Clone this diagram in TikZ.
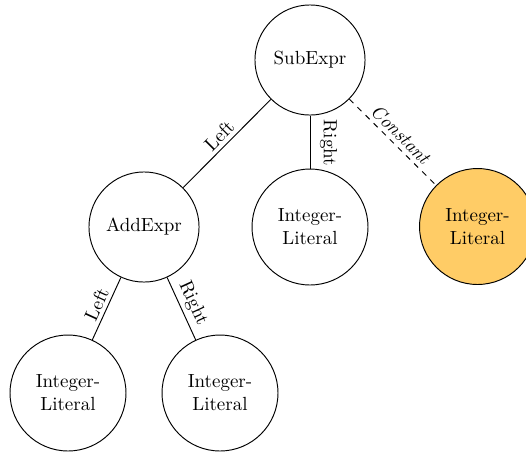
\documentclass[tikz,border=0pt]{standalone}
\begin{document}
\begin{tikzpicture}[x=0.526pt,y=-0.526pt,
  exprnode/.style={circle,draw,line width=0.5pt,inner sep=0pt,minimum size=57.9pt,align=center},
  litnode/.style={circle,draw,line width=0.5pt,inner sep=0pt,minimum size=61pt,align=center},
  constnode/.style={litnode,fill=constfill},
  edgelabel/.style={sloped,above,midway,inner sep=2pt},
  edge/.style={line width=0.5pt}]
\definecolor{constfill}{RGB}{255,204,102}
\useasboundingbox (0,0) rectangle (526,453);
% expression tree nodes
\node[exprnode] (sub) at (310,60) {SubExpr};
\node[exprnode] (add) at (144,227) {AddExpr};
\node[litnode] (mid) at (310,227) {Integer-\\Literal};
\node[constnode] (const) at (477.5,226.5) {Integer-\\Literal};
\node[litnode] (ll) at (68,393) {Integer-\\Literal};
\node[litnode] (lr) at (220,393) {Integer-\\Literal};
% connectors
\draw[edge] (sub) -- node[edgelabel] {Left} (add);
\draw[edge] (sub) -- node[pos=0.52,rotate=-90,anchor=south,inner sep=5pt] {Right} (mid);
\draw[edge,dashed] (sub) -- node[edgelabel] {\itshape Constant} (const);
\draw[edge] (add) -- node[edgelabel] {Left} (ll);
\draw[edge] (add) -- node[edgelabel] {Right} (lr);
\end{tikzpicture}
\end{document}
